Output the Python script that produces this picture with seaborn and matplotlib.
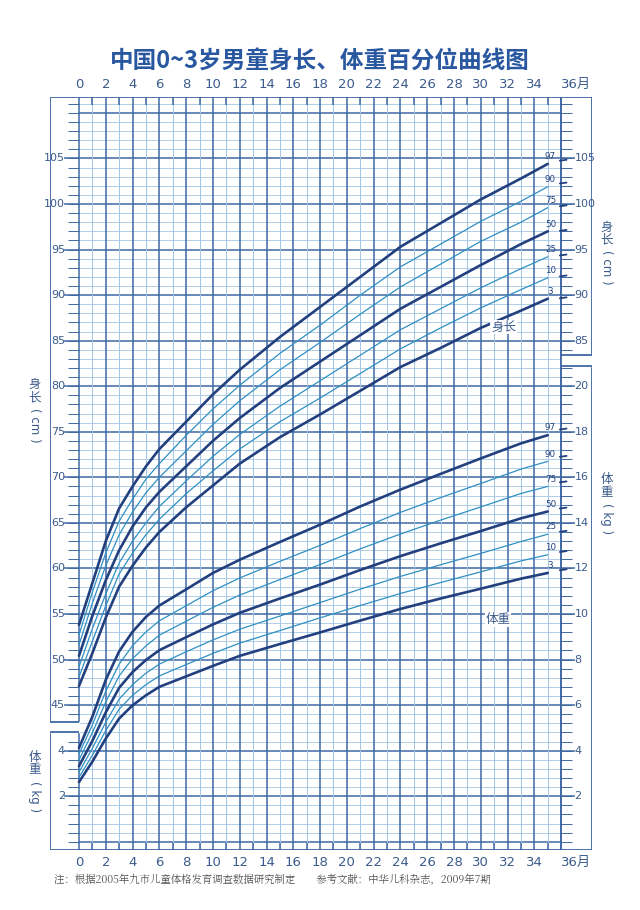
import numpy as np
import pandas as pd
import matplotlib
matplotlib.use("Agg")
import matplotlib.pyplot as plt
import seaborn as sns

sns.set_style("white")
plt.rcParams['font.family'] = ['Noto Sans CJK SC', 'DejaVu Sans']

# months at which percentile values are given
months = [0, 1, 2, 3, 4, 5, 6, 8, 10, 12, 15, 18, 21, 24, 27, 30, 33, 35]
pcts = [3, 10, 25, 50, 75, 90, 97]

# length (cm)
len_p3 = [47.1, 50.7, 54.6, 58.0, 60.3, 62.3, 64.0, 66.7, 69.1, 71.5, 74.4, 76.9, 79.5, 82.1, 84.2, 86.4, 88.3, 89.6]
len_p10 = [48.1, 52.0, 55.9, 59.4, 61.7, 63.7, 65.4, 68.2, 70.7, 73.1, 76.1, 78.7, 81.4, 84.1, 86.4, 88.6, 90.6, 91.9]
len_p25 = [49.2, 53.4, 57.2, 60.6, 63.0, 65.0, 66.8, 69.6, 72.3, 74.7, 77.8, 80.6, 83.4, 86.2, 88.5, 90.8, 92.9, 94.2]
len_p50 = [50.4, 54.8, 58.7, 62.0, 64.6, 66.7, 68.4, 71.2, 74.0, 76.5, 79.8, 82.7, 85.6, 88.5, 90.9, 93.3, 95.6, 97.0]
len_p75 = [51.6, 56.2, 60.3, 63.7, 66.2, 68.3, 70.0, 72.9, 75.8, 78.4, 81.8, 84.8, 87.9, 90.9, 93.4, 95.9, 98.0, 99.6]
len_p90 = [52.7, 57.4, 61.7, 65.2, 67.6, 69.8, 71.5, 74.6, 77.5, 80.1, 83.6, 86.7, 90.0, 93.1, 95.6, 98.1, 100.3, 101.9]
len_p97 = [53.8, 58.4, 63.0, 66.6, 69.0, 71.2, 73.1, 76.1, 79.1, 81.8, 85.4, 88.7, 92.0, 95.3, 97.9, 100.5, 102.8, 104.4]
len_36 = [89.7, 92.1, 94.4, 97.1, 99.8, 102.3, 104.8]

# weight (kg)
wt_p3 = [2.62, 3.52, 4.53, 5.41, 5.99, 6.43, 6.80, 7.26, 7.72, 8.16, 8.68, 9.19, 9.71, 10.22, 10.68, 11.11, 11.55, 11.8]
wt_p10 = [2.83, 3.80, 4.88, 5.82, 6.43, 6.90, 7.28, 7.78, 8.27, 8.72, 9.27, 9.83, 10.37, 10.90, 11.38, 11.85, 12.33, 12.6]
wt_p25 = [3.06, 4.10, 5.25, 6.26, 6.90, 7.40, 7.80, 8.34, 8.86, 9.33, 9.91, 10.50, 11.09, 11.65, 12.16, 12.66, 13.18, 13.5]
wt_p50 = [3.32, 4.43, 5.68, 6.76, 7.45, 7.98, 8.41, 8.98, 9.54, 10.05, 10.68, 11.29, 11.93, 12.54, 13.10, 13.64, 14.20, 14.5]
wt_p75 = [3.59, 4.79, 6.14, 7.28, 8.04, 8.60, 9.07, 9.68, 10.29, 10.83, 11.51, 12.17, 12.86, 13.51, 14.12, 14.70, 15.29, 15.6]
wt_p90 = [3.85, 5.13, 6.61, 7.80, 8.61, 9.21, 9.70, 10.36, 11.02, 11.58, 12.31, 13.01, 13.75, 14.46, 15.11, 15.73, 16.36, 16.7]
wt_p97 = [4.12, 5.49, 7.11, 8.36, 9.22, 9.87, 10.37, 11.08, 11.80, 12.38, 13.16, 13.92, 14.72, 15.46, 16.15, 16.83, 17.49, 17.85]
wt_36 = [11.94, 12.74, 13.63, 14.65, 15.80, 16.92, 18.12]

top_ticks = list(range(0, 36, 2))
len_left_ticks = [45, 50, 55, 60, 65, 70, 75, 80, 85, 90, 95, 100, 105]
len_right_ticks = [85, 90, 95, 100, 105]
wt_left_ticks = [2, 4]
wt_right_ticks = [2, 4, 6, 8, 10, 12, 14, 16, 18, 20]

def kg2cm(kg):
    # weight scale shares the cm grid: 2 kg = 5 cm, 2 kg at 35 cm
    return 30 + 2.5 * np.asarray(kg)

DARK = '#23407e'
LIGHT = '#2f8fc2'
MINOR = '#a3c6e6'
MAJOR = '#3f68a3'
TXT = '#3b5b8c'

len_all = [len_p3, len_p10, len_p25, len_p50, len_p75, len_p90, len_p97]
wt_all = [wt_p3, wt_p10, wt_p25, wt_p50, wt_p75, wt_p90, wt_p97]

rows = []
for p, l, w in zip(pcts, len_all, wt_all):
    for m, lv, wv in zip(months, l, w):
        rows.append(dict(month=m, pct=p, kind='len', val=lv))
        rows.append(dict(month=m, pct=p, kind='wt', val=float(kg2cm(wv))))
df = pd.DataFrame(rows)

fig = plt.figure(figsize=(6.4, 9.1), dpi=100)
ax = fig.add_axes([0.078, 0.066, 0.847, 0.827])
X0, X1 = -2.17, 38.3
Y0, Y1 = 29.1, 111.7
ax.set_xlim(X0, X1)
ax.set_ylim(Y0, Y1)
ax.axis('off')

# grid
for c in range(30, 112):
    major = c % 5 == 0
    ax.hlines(c, 0, 36, color=MAJOR if major else MINOR, lw=1.1 if major else 0.6, zorder=1)
for m in range(0, 37):
    major = m % 2 == 0
    ax.vlines(m, Y0, Y1, color=MAJOR if major else MINOR, lw=1.1 if major else 0.7, zorder=1)

# frame + side panels
ax.plot([X0, X1, X1, X0, X0], [Y1, Y1, Y0, Y0, Y1], color=MAJOR, lw=1.3, zorder=2)
gapL = (43.1, 42.0)
gapR = (83.4, 82.2)
ax.fill_between([X0 - 0.1, 0], gapL[1], gapL[0], color='white', zorder=3)
ax.hlines([gapL[0], gapL[1]], X0, 0, color=MAJOR, lw=1.3, zorder=4)
ax.fill_between([36, X1 + 0.1], gapR[1], gapR[0], color='white', zorder=3)
ax.hlines([gapR[0], gapR[1]], 36, X1, color=MAJOR, lw=1.3, zorder=4)
ax.vlines(36, Y0, Y1, color=MAJOR, lw=1.3, zorder=4)
# side minor ticks
for c in range(30, 112):
    ax.hlines(c, -0.8, 0, color=MAJOR, lw=0.7, zorder=2)
    ax.hlines(c, 36, 36.8, color=MAJOR, lw=0.7, zorder=2)
for m in range(1, 36, 2):
    ax.vlines(m, Y1 - 0.8, Y1, color=MAJOR, lw=1.1, zorder=2)
    ax.vlines(m, Y0, Y0 + 0.8, color=MAJOR, lw=1.1, zorder=2)

# curves
for kind in ['len', 'wt']:
    sub = df[df.kind == kind]
    for p in pcts:
        dark = p in (3, 50, 97)
        sns.lineplot(data=sub[sub.pct == p], x='month', y='val', ax=ax,
                     color=DARK if dark else LIGHT, lw=1.9 if dark else 0.9,
                     legend=False, zorder=5)

for p, lv, wv, l35, w35 in zip(pcts, len_36, wt_36, [v[-1] for v in len_all], [v[-1] for v in wt_all]):
    for end, yv in [(lv, l35), (float(kg2cm(wv)), float(kg2cm(w35)))]:
        ax.plot([35.9, 36.4], [end - 0.05, end + 0.05], color=DARK, lw=1.3, zorder=5)
        ax.text(35.2, yv + 0.8, str(p), fontsize=6.3, color=DARK, ha='center', va='center', zorder=6,
                family='DejaVu Sans')

# tick labels
for m in top_ticks + [36]:
    lab = f"{m}月" if m == 36 else str(m)
    ax.text(m, Y1 + 0.7, lab, ha='center' if m < 36 else 'left', va='bottom', fontsize=9.5, color=TXT,
            family=['DejaVu Sans', 'Noto Sans CJK SC'])
    ax.text(m, Y0 - 0.7, lab, ha='center' if m < 36 else 'left', va='top', fontsize=9.5, color=TXT,
            family=['DejaVu Sans', 'Noto Sans CJK SC'])
for c in len_left_ticks:
    ax.text(-1.05, c, str(c), ha='right', va='center', fontsize=8, color=TXT, family='DejaVu Sans')
    ax.hlines(c, -1.1, 0, color=MAJOR, lw=1.1)
for k in wt_left_ticks:
    ax.text(-1.05, kg2cm(k), str(k), ha='right', va='center', fontsize=8, color=TXT, family='DejaVu Sans')
    ax.hlines(kg2cm(k), -1.1, 0, color=MAJOR, lw=1.1)
for c in len_right_ticks:
    ax.text(37.0, c, str(c), ha='left', va='center', fontsize=8, color=TXT, family='DejaVu Sans')
    ax.hlines(c, 36, 37.0, color=MAJOR, lw=1.1)
for k in wt_right_ticks:
    ax.text(37.0, kg2cm(k), str(k), ha='left', va='center', fontsize=8, color=TXT, family='DejaVu Sans')
    ax.hlines(kg2cm(k), 36, 37.0, color=MAJOR, lw=1.1)

def side_label(x, y, name, unit):
    ax.text(x, y, "\n".join(name), ha='center', va='top', fontsize=9, color=TXT, linespacing=1.0,
            clip_on=False)
    ax.text(x, y - 3.3, f"( {unit} )", ha='center', va='top', fontsize=8.5, color=TXT, rotation=-90,
            clip_on=False, family='DejaVu Sans')

side_label(-3.3, 80.9, "身长", "cm")
side_label(-3.3, 40.0, "体重", "kg")
side_label(39.4, 98.2, "身长", "cm")
side_label(39.4, 70.5, "体重", "kg")

ax.text(31.7, 86.5, "身长", fontsize=9, color=TXT, ha='center', va='center', zorder=6,
        bbox=dict(fc='white', ec='none', pad=0.5))
ax.text(31.3, 54.4, "体重", fontsize=9, color=TXT, ha='center', va='center', zorder=6,
        bbox=dict(fc='white', ec='none', pad=0.5))

fig.text(0.5, 0.932, "中国0~3岁男童身长、体重百分位曲线图", ha='center', va='center',
         fontsize=17, fontweight='bold', color='#2a58a0')
fig.text(0.085, 0.033, "注：根据2005年九市儿童体格发育调查数据研究制定        参考文献：中华儿科杂志，2009年7期",
         ha='left', va='center', fontsize=7.5, color='#555555',
         family=['Noto Serif CJK SC', 'Noto Sans CJK SC', 'DejaVu Sans'])

fig.savefig("out.png", dpi=100, facecolor='white')
